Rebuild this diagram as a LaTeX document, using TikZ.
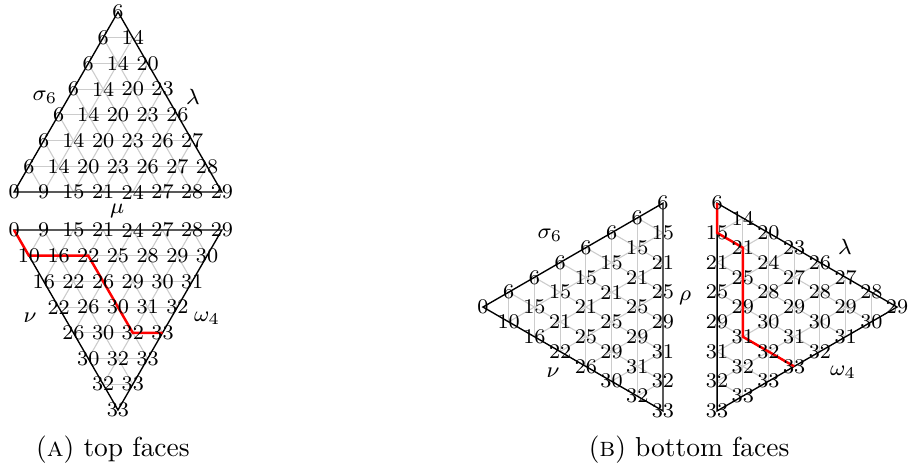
\documentclass[tikz,border=0pt]{standalone}
\usepackage{amsmath,amssymb}
\usepackage{fontspec}
\usetikzlibrary{backgrounds}

\begin{document}
\begin{tikzpicture}[
    num/.style={font=\fontsize{7.6}{8}\selectfont, inner sep=0pt},
    lab/.style={font=\fontsize{8}{9}\selectfont, inner sep=0pt},
    latt/.style={gray!40, line width=0.4pt},
    rim/.style={black, line width=0.5pt},
    redline/.style={red, line width=0.9pt},
  ]
  \useasboundingbox (0,0) rectangle (11.622,6.016);
  \def\s{0.38}
  \def\h{0.3291}

  % (a) upper triangle
  \foreach \row [count=\r from 0] in {{6},{6,14},{6,14,20},{6,14,20,23},{6,14,20,23,26},
      {6,14,20,23,26,27},{6,14,20,23,26,27,28},{0,9,15,21,24,27,28,29}} {
    \foreach \v [count=\c from 0] in \row {
      \coordinate (At-\r-\c) at ({1.510+(\c-\r/2)*\s},{5.862-\r*\h});
      \node[num] at (At-\r-\c) {\v};
    }
  }
  % (a) lower triangle
  \foreach \row [count=\r from 0] in {{0,9,15,21,24,27,28,29},{10,16,22,25,28,29,30},
      {16,22,26,29,30,31},{22,26,30,31,32},{26,30,32,33},{30,32,33},{32,33},{33}} {
    \foreach \v [count=\c from 0] in \row {
      \coordinate (Ab-\r-\c) at ({0.18+(\c+\r/2)*\s},{3.072-\r*\h});
      \node[num] at (Ab-\r-\c) {\v};
    }
  }
  % (b) left triangle
  \foreach \col [count=\c from 0] in {{0},{6,10},{6,15,16},{6,15,21,22},{6,15,21,25,26},
      {6,15,21,25,29,30},{6,15,21,25,29,31,32},{6,15,21,25,29,31,32,33}} {
    \foreach \v [count=\k from 0] in \col {
      \coordinate (Bl-\c-\k) at ({6.182+\c*\h},{2.086+(\c/2-\k)*\s});
      \node[num] at (Bl-\c-\k) {\v};
    }
  }
  % (b) right triangle
  \foreach \col [count=\c from 0] in {{6,15,21,25,29,31,32,33},{14,21,25,29,31,32,33},
      {20,24,28,30,32,33},{23,27,29,31,33},{26,28,30,32},{27,29,31},{28,30},{29}} {
    \foreach \v [count=\k from 0] in \col {
      \coordinate (Br-\c-\k) at ({9.178+\c*\h},{3.416-(\c/2+\k)*\s});
      \node[num] at (Br-\c-\k) {\v};
    }
  }

  \begin{scope}[on background layer]
    \foreach \i [evaluate=\i as \j using int(7-\i)] in {1,...,6} {
      \draw[latt] (At-\i-0) -- (At-\i-\i);
      \draw[latt] (At-\i-\i) -- (At-7-\i);
      \draw[latt] (At-\i-0) -- (At-7-\j);
      \draw[latt] (Ab-\i-0) -- (Ab-\i-\j);
      \draw[latt] (Ab-0-\i) -- (Ab-\j-\i);
      \draw[latt] (Ab-0-\i) -- (Ab-\i-0);
      \draw[latt] (Bl-\i-0) -- (Bl-\i-\i);
      \draw[latt] (Bl-\i-\i) -- (Bl-7-\i);
      \draw[latt] (Bl-\i-0) -- (Bl-7-\j);
      \draw[latt] (Br-\i-0) -- (Br-\i-\j);
      \draw[latt] (Br-0-\i) -- (Br-\j-\i);
      \draw[latt] (Br-0-\i) -- (Br-\i-0);
    }
    \draw[rim] (At-0-0) -- (At-7-0) -- (At-7-7) -- cycle;
    \draw[rim] (Ab-0-0) -- (Ab-0-7) -- (Ab-7-0) -- cycle;
    \draw[rim] (Bl-0-0) -- (Bl-7-0) -- (Bl-7-7) -- cycle;
    \draw[rim] (Br-0-0) -- (Br-7-0) -- (Br-0-7) -- cycle;
    \draw[redline] (Ab-0-0) -- (Ab-1-0) -- (Ab-1-2) -- (Ab-2-2) -- (Ab-3-2) -- (Ab-4-2) -- (Ab-4-3);
    \draw[redline] (Br-0-0) -- (Br-0-1) -- (Br-1-1) -- (Br-1-4) -- (Br-3-4);
  \end{scope}

  \node[lab] (sigA)   at (0.576,4.774) {$\sigma_6$};
  \node[lab] (lamA)   at (2.470,4.774) {$\lambda$};
  \node[lab] (muA)    at (1.498,3.320) {$\mu$};
  \node[lab] (nuA)    at (0.384,1.946) {$\nu$};
  \node[lab] (omA)    at (2.650,1.946) {$\omega_4$};
  \node[lab] (sigB)   at (7.040,3.008) {$\sigma_6$};
  \node[lab] (rhoB)   at (8.768,2.200) {$\rho$};
  \node[lab] (nuB)    at (7.078,1.242) {$\nu$};
  \node[lab] (lamB)   at (10.816,2.854) {$\lambda$};
  \node[lab] (omB)    at (10.790,1.254) {$\omega_4$};

  \node (capA) at (1.446,0.256) {(\textsc{a}) top faces};
  \node (capB) at (8.820,0.256) {(\textsc{b}) bottom faces};
\end{tikzpicture}
\end{document}
